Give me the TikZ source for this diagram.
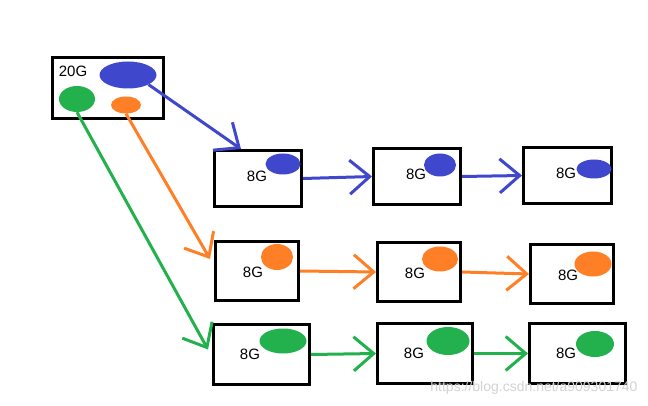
\documentclass[tikz,border=0pt]{standalone}
\usepackage{fontspec}
\setmainfont{Liberation Sans}
\usetikzlibrary{shapes,arrows.meta,positioning}
\definecolor{pblue}{RGB}{63,72,204}
\definecolor{porange}{RGB}{255,127,39}
\definecolor{pgreen}{RGB}{34,177,76}

\begin{document}
\begin{tikzpicture}[x=1pt, y=-1pt]
      \tikzstyle{box} = [rectangle, draw, line width=3pt, inner sep=0pt]
      \tikzstyle{blob} = [ellipse, inner sep=0pt]
      \tikzstyle{size} = [font=\fontsize{15}{18}\selectfont]
      \tikzstyle{flow} = [line width=3pt, -{Straight Barb[length=20pt, width=34pt]}]

      \useasboundingbox (0,0) rectangle (648,406);

      % source 20G
      \node[box, minimum width=111, minimum height=61] (b0) at (108,88) {};
      \node[size] (t0) at (73,71) {20G};
      \node[blob, fill=pblue, minimum width=57, minimum height=27] (e0b) at (128,75) {};
      \node[blob, fill=pgreen, minimum width=36, minimum height=26] (e0g) at (77,99) {};
      \node[blob, fill=porange, minimum width=30, minimum height=17] (e0o) at (126,105) {};

      % blue row
      \node[box, minimum width=87, minimum height=56] (b11) at (258,178.5) {};
      \node[box, minimum width=87, minimum height=56] (b12) at (417,176.5) {};
      \node[box, minimum width=88, minimum height=56] (b13) at (567.5,175.5) {};
      \node[size] (t11) at (257,176) {8G};
      \node[size] (t12) at (416,174) {8G};
      \node[size] (t13) at (566,173) {8G};
      \node[blob, fill=pblue, minimum width=35, minimum height=21] (e11) at (283,164) {};
      \node[blob, fill=pblue, minimum width=32, minimum height=23] (e12) at (440,165) {};
      \node[blob, fill=pblue, minimum width=35, minimum height=19] (e13) at (594,169) {};

      % orange row
      \node[box, minimum width=83, minimum height=59] (b21) at (257,271) {};
      \node[box, minimum width=83, minimum height=59] (b22) at (419,272) {};
      \node[box, minimum width=83, minimum height=59] (b23) at (572,274) {};
      \node[size] (t21) at (253,272) {8G};
      \node[size] (t22) at (415,273) {8G};
      \node[size] (t23) at (568,275) {8G};
      \node[blob, fill=porange, minimum width=32, minimum height=26] (e21) at (277,257) {};
      \node[blob, fill=porange, minimum width=36, minimum height=25] (e22) at (440,259) {};
      \node[blob, fill=porange, minimum width=37, minimum height=25] (e23) at (593,264) {};

      % green row
      \node[box, minimum width=96, minimum height=60] (b31) at (261.5,354.5) {};
      \node[box, minimum width=95, minimum height=60] (b32) at (425,353.5) {};
      \node[box, minimum width=96, minimum height=60] (b33) at (577.5,353.5) {};
      \node[size] (t31) at (250,354) {8G};
      \node[size] (t32) at (414,353) {8G};
      \node[size] (t33) at (566,353) {8G};
      \node[blob, fill=pgreen, minimum width=47, minimum height=25] (e31) at (283,341) {};
      \node[blob, fill=pgreen, minimum width=43, minimum height=28] (e32) at (448,341) {};
      \node[blob, fill=pgreen, minimum width=38, minimum height=26] (e33) at (595,344) {};

      \draw[flow, pblue] (e0b.-25) -- ([xshift=28pt]b11.north west);
      \draw[flow, porange] (e0o.south) -- ([shift={(-4pt,12pt)}]b21.west);
      \draw[flow, pgreen] (e0g.south) -- ([shift={(-4pt,5pt)}]b31.west);

      \draw[flow, pblue] (b11.east) -- (b12.west);
      \draw[flow, pblue] (b12.east) -- (b13.west);
      \draw[flow, porange] (b21.east) -- (b22.west);
      \draw[flow, porange] (b22.east) -- (b23.west);
      \draw[flow, pgreen] (b31.east) -- (b32.west);
      \draw[flow, pgreen] (b32.east) -- (b33.west);

      \node[anchor=east, text=gray!35, font=\fontsize{14}{16}\selectfont] (mark) at (641,388) {https://blog.csdn.net/a909301740};
    \end{tikzpicture}
\end{document}
